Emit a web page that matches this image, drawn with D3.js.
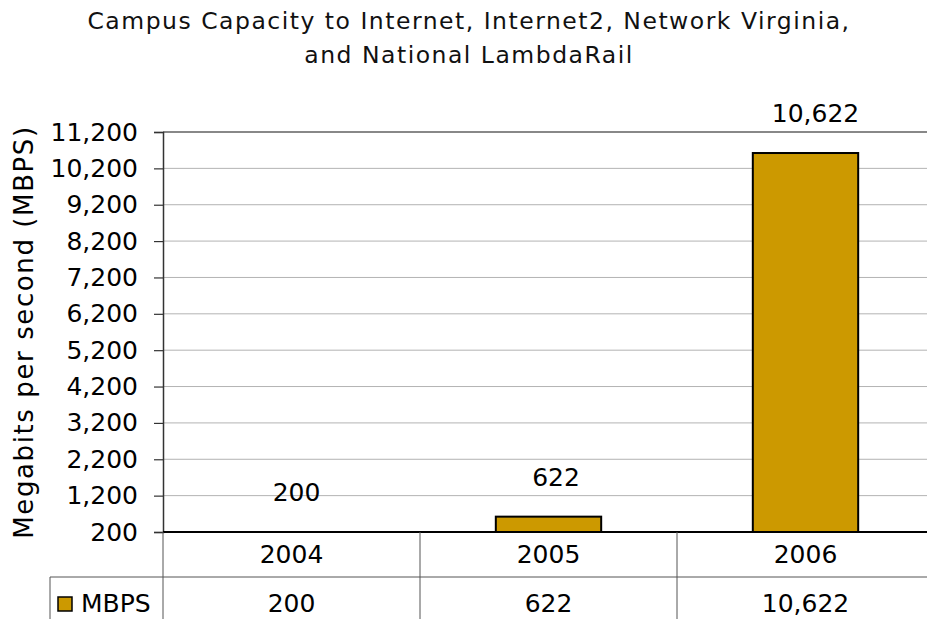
<!DOCTYPE html>
<html>
<head>
<meta charset="utf-8">
<script src="https://cdn.jsdelivr.net/npm/d3@7"></script>
<style>
  body { margin: 0; background: #fff; }
  svg { font-family: "DejaVu Sans", Verdana, sans-serif; }
</style>
</head>
<body>
<div id="vis"></div>
<script>
const FRAME_WIDTH = 927;
const FRAME_HEIGHT = 619;
const MARGINS = {left: 163, top: 132, bottom: 87};

// data
const years = ["2004", "2005", "2006"];
const mbps = [200, 622, 10622];
const yTicks = [200, 1200, 2200, 3200, 4200, 5200, 6200, 7200, 8200, 9200, 10200, 11200];
const seriesName = "MBPS";

const BAR_COLOR = "#CC9900";
const BASE_Y = FRAME_HEIGHT - MARGINS.bottom;   // 532
const STEP = 257;
const FONT = 25;
const fmt = d3.format(",");

const FRAME = d3.select("#vis")
  .append("svg")
    .attr("width", FRAME_WIDTH)
    .attr("height", FRAME_HEIGHT);

// title
const title = FRAME.append("text")
  .attr("text-anchor", "middle")
  .attr("font-size", 23.5)
  .attr("letter-spacing", 1.5)
  .attr("fill", "#111");
title.append("tspan").attr("x", 469).attr("y", 29)
  .text("Campus Capacity to Internet, Internet2, Network Virginia,");
title.append("tspan").attr("x", 469).attr("y", 63)
  .text("and National LambdaRail");

const X_SCALE = d3.scaleBand()
  .domain(years)
  .range([MARGINS.left, MARGINS.left + STEP * years.length])
  .padding(0);

const Y_SCALE = d3.scaleLinear()
  .domain([200, 11200])
  .range([BASE_Y, MARGINS.top]);

// gridlines
FRAME.append("g")
  .selectAll("line")
  .data(yTicks.slice(1))
  .enter()
  .append("line")
    .attr("x1", MARGINS.left)
    .attr("x2", FRAME_WIDTH)
    .attr("y1", (d) => Y_SCALE(d))
    .attr("y2", (d) => Y_SCALE(d))
    .attr("stroke", (d) => d === 11200 ? "#888" : "#b3b3b3")
    .attr("stroke-width", (d) => d === 11200 ? 2 : 1);

// y axis
const yAxis = FRAME.append("g")
  .attr("transform", "translate(" + MARGINS.left + ",0)")
  .call(d3.axisLeft(Y_SCALE).tickValues(yTicks).tickFormat(fmt).tickSize(9).tickPadding(16));
yAxis.select(".domain").attr("stroke", "#333").attr("stroke-width", 1.5);
yAxis.selectAll(".tick line").attr("stroke", "#333").attr("stroke-width", 1.2);
yAxis.selectAll(".tick text")
  .attr("font-size", FONT)
  .attr("fill", "#000")
  .attr("font-family", "DejaVu Sans, Verdana, sans-serif");

// y axis title
FRAME.append("text")
  .attr("transform", "translate(33," + (MARGINS.top + BASE_Y) / 2 + ") rotate(-90)")
  .attr("text-anchor", "middle")
  .attr("font-size", 26)
  .attr("letter-spacing", 1.6)
  .attr("fill", "#000")
  .text("Megabits per second (MBPS)");

// bars
const BAR_W = X_SCALE.bandwidth() * 0.41;
FRAME.append("g")
  .selectAll("rect")
  .data(mbps)
  .enter()
  .append("rect")
    .attr("x", (d, i) => X_SCALE(years[i]) + (X_SCALE.bandwidth() - BAR_W) / 2)
    .attr("y", (d) => Y_SCALE(d))
    .attr("width", BAR_W)
    .attr("height", (d) => BASE_Y - Y_SCALE(d))
    .attr("fill", BAR_COLOR)
    .attr("stroke", (d) => d > 200 ? "#000" : "none")
    .attr("stroke-width", 2);

// value labels (sit a little right of centre, as in the original)
FRAME.append("g")
  .selectAll("text")
  .data(mbps)
  .enter()
  .append("text")
    .attr("x", (d, i) => X_SCALE(years[i]) + X_SCALE.bandwidth() / 2 + 5 + i * 2.5)
    .attr("y", (d) => Y_SCALE(d) - 31)
    .attr("text-anchor", "middle")
    .attr("font-size", FONT)
    .text((d) => fmt(d));

// baseline
FRAME.append("line")
  .attr("x1", MARGINS.left).attr("x2", FRAME_WIDTH)
  .attr("y1", BASE_Y).attr("y2", BASE_Y)
  .attr("stroke", "#000").attr("stroke-width", 2);

// data table
const ROW1 = BASE_Y + 45;   // 577
const table = FRAME.append("g");

table.append("line")
  .attr("x1", 50).attr("x2", FRAME_WIDTH)
  .attr("y1", ROW1).attr("y2", ROW1)
  .attr("stroke", "#555").attr("stroke-width", 1);
table.append("line")
  .attr("x1", 50).attr("x2", 50)
  .attr("y1", ROW1).attr("y2", FRAME_HEIGHT)
  .attr("stroke", "#555").attr("stroke-width", 1);

table.selectAll("line.sep")
  .data(years)
  .enter()
  .append("line")
    .attr("class", "sep")
    .attr("x1", (d) => X_SCALE(d))
    .attr("x2", (d) => X_SCALE(d))
    .attr("y1", BASE_Y)
    .attr("y2", FRAME_HEIGHT)
    .attr("stroke", "#555").attr("stroke-width", 1);

table.selectAll("text.cat")
  .data(years)
  .enter()
  .append("text")
    .attr("class", "cat")
    .attr("x", (d) => X_SCALE(d) + X_SCALE.bandwidth() / 2)
    .attr("y", BASE_Y + 31)
    .attr("text-anchor", "middle")
    .attr("font-size", FONT)
    .text((d) => d);

table.selectAll("text.val")
  .data(mbps)
  .enter()
  .append("text")
    .attr("class", "val")
    .attr("x", (d, i) => X_SCALE(years[i]) + X_SCALE.bandwidth() / 2)
    .attr("y", ROW1 + 35)
    .attr("text-anchor", "middle")
    .attr("font-size", FONT)
    .text((d) => fmt(d));

// legend key
table.append("rect")
  .attr("x", 58).attr("y", 597)
  .attr("width", 14).attr("height", 14)
  .attr("fill", BAR_COLOR)
  .attr("stroke", "#000").attr("stroke-width", 1.5);
table.append("text")
  .attr("x", 81).attr("y", ROW1 + 35)
  .attr("font-size", FONT)
  .text(seriesName);
</script>
</body>
</html>
